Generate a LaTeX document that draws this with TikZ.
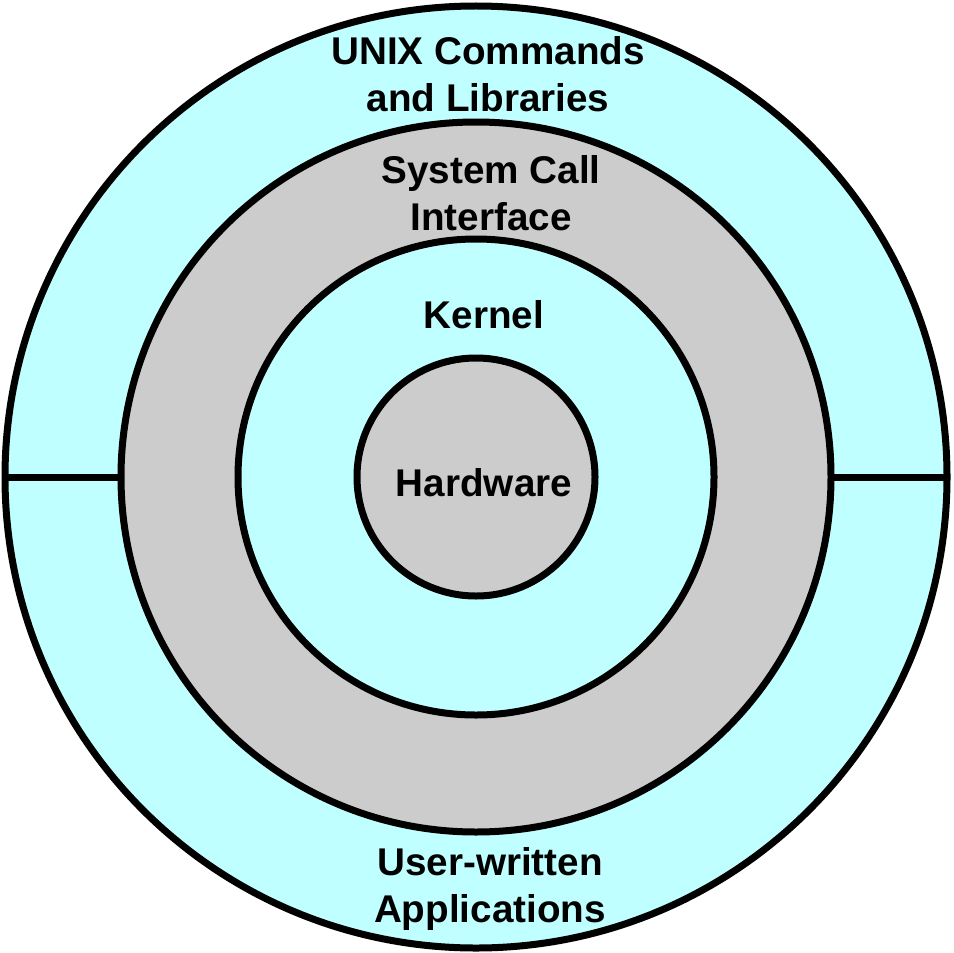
\documentclass[tikz,border=0pt]{standalone}
\usepackage{fontspec}
\setmainfont{Liberation Sans}
\definecolor{cy}{HTML}{C0FFFF}
\definecolor{gr}{HTML}{CCCCCC}
\begin{document}
\begin{tikzpicture}[x=0.02cm,y=-0.02cm,
  ring/.style={draw=black,line width=0.14cm},
  lbl/.style={font=\fontsize{22}{26.6}\selectfont\bfseries,align=center}]
\useasboundingbox (0,0) rectangle (953,953);
\coordinate (c) at (476,477);
\fill[white] (0,0) rectangle (953,953);
\draw[ring,fill=cy] (c) circle (471);
\draw[ring,fill=gr] (c) circle (355);
\draw[ring,fill=cy] (c) circle (238);
\draw[ring,fill=gr] (c) circle (119);
\coordinate (l1) at (5,477); \coordinate (l2) at (121,477);
\coordinate (r1) at (831,477); \coordinate (r2) at (948,477);
\draw[ring] (l1) -- (l2);
\draw[ring] (r1) -- (r2);
\node[lbl] (unix) at (488,74) {UNIX Commands\\and Libraries};
\node[lbl] (sci) at (491,193) {System Call\\Interface};
\node[lbl] (k) at (484,315) {Kernel};
\node[lbl] (hw) at (484,483) {Hardware};
\node[lbl] (uw) at (490,889) {User-written\\Applications};
\end{tikzpicture}
\end{document}
